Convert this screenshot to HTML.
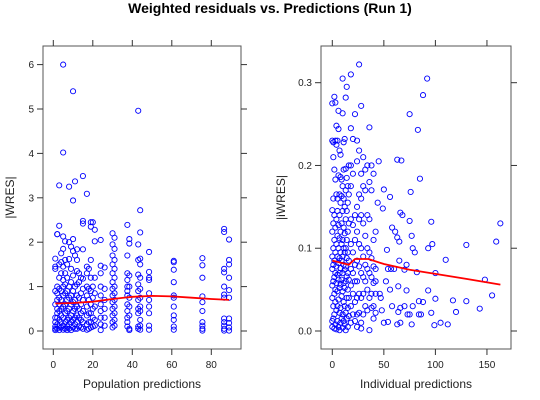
<!DOCTYPE html>
<html><head><meta charset="utf-8">
<style>
html,body{margin:0;padding:0;background:#fff;}
svg{display:block;font-family:"Liberation Sans",Arial,sans-serif;}
</style></head>
<body>
<svg id="chart" width="540" height="400" viewBox="0 0 540 400">
<text x="270" y="13" text-anchor="middle" font-size="14" font-weight="bold">Weighted residuals vs. Predictions (Run 1)</text>
<g id="left"></g>
<g id="right"></g>
</svg>
<script>
// ---- Left panel data (Population predictions vs |WRES|) ----
const leftColX = [1,2,3,4,5,6,7,8,9,10,11,12,13,14,15,17,18,19,20,21,24,26,30,31,37.5,38.5,43,44,48.5,61,75.5,86.5,89];
const leftColY = [
[1.63,1.45,1.4,0.9,0.6,0.2,0.1,0.05,0.02,0.3],
[2.18,1.0,0.85,0.5,0.3,0.15,0.05,0.7,0.4,2.18],
[2.37,3.28,1.5,1.2,0.95,0.75,0.45,0.25,0.1,0.02,0.6],
[1.75,1.55,0.9,0.7,0.5,0.35,0.2,0.08,1.3],
[6.0,4.02,2.13,1.85,1.45,1.15,0.8,0.55,0.3,0.12,0.03,1.0],
[2.02,1.6,1.3,1.05,0.6,0.4,0.2,0.05,0.85],
[1.5,1.2,0.9,0.7,0.45,0.25,0.1,0.02],
[3.25,2.0,1.62,1.0,0.75,0.5,0.3,0.15,0.05],
[1.9,1.4,1.1,0.8,0.6,0.35,0.2,0.02],
[5.4,2.94,2.07,1.8,1.25,0.9,0.65,0.45,0.25,0.08],
[3.37,1.7,1.0,0.7,0.5,0.3,0.15,0.05],
[1.84,1.6,1.35,1.05,0.8,0.55,0.35,0.2,0.05],
[1.3,1.1,0.75,0.5,0.3,0.1],
[1.2,0.85,0.6,0.4,0.25,0.08],
[3.49,2.48,2.42,1.84,1.18,0.95,0.7,0.45,0.2,0.05],
[3.09,1.45,1.3,1.0,0.8,0.55,0.35,0.15,0.03],
[1.4,0.95,0.7,0.4,0.2,0.05],
[2.45,2.35,1.6,1.2,0.9,0.6,0.4,0.2,0.08],
[2.45,1.0,0.75,0.5,0.3,0.1],
[2.28,2.02,1.2,0.85,0.55,0.25,0.12],
[2.05,1.47,1.3,1.0,0.8,0.6,0.45,0.3,0.15,0.02],
[1.43,0.95,0.7,0.5,0.3,0.12],
[2.2,1.95,1.7,1.5,1.3,1.1,0.95,0.8,0.65,0.5,0.35,0.2,0.08],
[2.1,1.85,1.6,1.4,1.2,1.0,0.85,0.7,0.55,0.4,0.25,0.12],
[2.39,1.7,1.3,1.15,1.0,0.9,0.8,0.6,0.45,0.3,0.2,0.1],
[2.07,1.97,1.25,1.0,0.75,0.55,0.35,0.05,0.02],
[4.96,1.95,1.6,1.27,1.05,0.9,0.7,0.5,0.4,0.1,0.05],
[2.72,2.22,1.63,1.5,1.2,0.95,0.75,0.55,0.45,0.25,0.12,0.03],
[1.78,1.33,1.2,1.15,0.85,0.7,0.55,0.4,0.12,0.03],
[1.58,1.55,1.38,1.1,0.8,0.75,0.55,0.35,0.25,0.1,0.03],
[1.64,1.48,1.2,0.78,0.65,0.45,0.2,0.12,0.05,0.01],
[2.3,2.23,1.4,1.32,1.0,0.82,0.75,0.28,0.2,0.12,0.05,0.01],
[2.06,1.6,1.5,1.2,0.92,0.75,0.28,0.18,0.08,0.01]
];
const leftSmoothX = [1,10,20,30,40,50,60,70,80,89];
const leftSmoothY = [0.62,0.63,0.66,0.72,0.77,0.79,0.78,0.75,0.72,0.70];
const leftXTicks = [0,20,40,60,80];
const leftYTicks = [0,1,2,3,4,5,6];

// ---- Right panel data (Individual predictions vs |iWRES|) ----
const rightColX = [0,1,2,3,4,5,6,7,8,9,10,11,12,13,14,15,16,18,20,22,24,26,28,30,32,34,36,38,40,42];
const rightColY = [
[0.275,0.23,0.146,0.12,0.09,0.075,0.055,0.04,0.012,0.005],
[0.228,0.21,0.16,0.13,0.1,0.08,0.06,0.03,0.015],
[0.283,0.195,0.14,0.11,0.085,0.065,0.045,0.02,0.003],
[0.276,0.23,0.183,0.125,0.095,0.07,0.05,0.035,0.008],
[0.248,0.225,0.165,0.135,0.105,0.078,0.058,0.025,0.002],
[0.23,0.16,0.145,0.115,0.09,0.068,0.048,0.03,0.012],
[0.266,0.244,0.188,0.128,0.1,0.082,0.062,0.038,0.005],
[0.218,0.165,0.14,0.112,0.088,0.07,0.052,0.022,0.001],
[0.213,0.186,0.155,0.12,0.095,0.076,0.056,0.028,0.01],
[0.183,0.163,0.13,0.105,0.085,0.062,0.042,0.015],
[0.263,0.305,0.175,0.145,0.11,0.09,0.07,0.048,0.02,0.004],
[0.228,0.195,0.16,0.125,0.1,0.08,0.058,0.035,0.012],
[0.232,0.15,0.118,0.095,0.074,0.052,0.03,0.008],
[0.282,0.196,0.17,0.135,0.1,0.078,0.06,0.022,0.001],
[0.295,0.185,0.145,0.11,0.088,0.066,0.04,0.015],
[0.175,0.155,0.12,0.095,0.07,0.05,0.028,0.005],
[0.2,0.165,0.13,0.085,0.062,0.04,0.018],
[0.31,0.245,0.2,0.175,0.135,0.105,0.075,0.055,0.03,0.01],
[0.232,0.19,0.128,0.095,0.07,0.045,0.02],
[0.262,0.14,0.11,0.08,0.06,0.035,0.012],
[0.23,0.205,0.15,0.12,0.085,0.06,0.04,0.02,0.005],
[0.322,0.218,0.165,0.135,0.105,0.078,0.045,0.022],
[0.272,0.19,0.16,0.14,0.1,0.07,0.04,0.01,0.003],
[0.21,0.175,0.13,0.09,0.065,0.045,0.02],
[0.195,0.17,0.115,0.08,0.06,0.03],
[0.2,0.14,0.1,0.075,0.05,0.025],
[0.246,0.18,0.135,0.095,0.07,0.04,0.001],
[0.2,0.17,0.088,0.065,0.045,0.028],
[0.19,0.11,0.078,0.058,0.03,0.015],
[0.12,0.075,0.06,0.045,0.022]
];
const rightExtraX = [92,88,75,83,63,67,45,85,76,50,56,66,75,96,163,44,58,63,77,65,97,130,159,78,93,80,110,65,100,82,148,54,60,72,70,64,72,93,155,100,117,130,84,88,143,120,96,78,70,66,84,86,73,75,64,77,63,66,99,105,112,50,54,48,58,56,52,47,53,46,61,68,57,49];
const rightExtraY = [0.305,0.285,0.262,0.243,0.207,0.206,0.205,0.184,0.168,0.171,0.162,0.143,0.133,0.132,0.13,0.155,0.125,0.113,0.115,0.108,0.105,0.104,0.108,0.1,0.1,0.095,0.086,0.085,0.07,0.071,0.062,0.075,0.075,0.08,0.074,0.054,0.049,0.049,0.043,0.039,0.037,0.036,0.036,0.035,0.027,0.023,0.022,0.03,0.03,0.028,0.02,0.02,0.02,0.02,0.023,0.008,0.008,0.01,0.007,0.01,0.008,0.01,0.011,0.025,0.03,0.05,0.06,0.04,0.098,0.045,0.12,0.14,0.075,0.148];
const rightSmoothX = [0,10,16,22,35,50,75,100,130,163];
const rightSmoothY = [0.085,0.082,0.080,0.087,0.087,0.081,0.074,0.069,0.063,0.056];
const rightXTicks = [0,50,100,150];
const rightYTicks = [0,0.1,0.2,0.3];
const rightYLabels = ["0.0","0.1","0.2","0.3"];

const NS = "http://www.w3.org/2000/svg";
function mk(tag, attrs, parent){const e=document.createElementNS(NS,tag);for(const k in attrs)e.setAttribute(k,attrs[k]);parent.appendChild(e);return e;}

function panel(g, box, sx, sy, xTicks, yTicks, yLabels, xTitle, yTitle, ptsX, ptsY, smX, smY, ytx){
  const frame = mk('rect',{x:box.l,y:box.t,width:box.r-box.l,height:box.b-box.t,fill:'none',stroke:'#555','stroke-width':1},g);
  
  
  xTicks.forEach(v=>{
    const x=sx(v);
    const t1=mk('line',{x1:x,x2:x,y1:box.b,y2:box.b+6,stroke:'#333'},g);
    
    
    const t2=mk('line',{x1:x,x2:x,y1:box.t,y2:box.t-6,stroke:'#333'},g);
    
    
    const lb=mk('text',{x:x,y:box.b+19,'text-anchor':'middle','font-size':10,fill:'#222'},g);
    lb.textContent=v;
    
    
  });
  yTicks.forEach((v,i)=>{
    const y=sy(v);
    const t1=mk('line',{x1:box.l-6,x2:box.l,y1:y,y2:y,stroke:'#333'},g);
    
    
    const t2=mk('line',{x1:box.r,x2:box.r+6,y1:y,y2:y,stroke:'#333'},g);
    
    
    const lb=mk('text',{x:box.l-9,y:y+3.5,'text-anchor':'end','font-size':10,fill:'#222'},g);
    lb.textContent=yLabels?yLabels[i]:v;
    
    
  });
  const xt=mk('text',{x:(box.l+box.r)/2,y:388,'text-anchor':'middle','font-size':12,fill:'#222'},g);
  xt.textContent=xTitle;
  
  
  const yx=ytx, yy=(box.t+box.b)/2;
  const yt=mk('text',{x:yx,y:yy,'text-anchor':'middle','font-size':12,fill:'#222',transform:`rotate(-90 ${yx} ${yy})`},g);
  yt.textContent=yTitle;
  
  
  for(let i=0;i<ptsX.length;i++){
    const c=mk('circle',{cx:sx(ptsX[i]),cy:sy(ptsY[i]),r:2.6,fill:'none',stroke:'#0000ff','stroke-width':0.9},g);
    
    
  }
  const d=smX.map((v,i)=>(i?'L':'M')+sx(v).toFixed(1)+','+sy(smY[i]).toFixed(1)).join(' ');
  const p=mk('path',{d:d,fill:'none',stroke:'#ff0000','stroke-width':1.8},g);
  
  
}

const lx=[],ly=[];
leftColX.forEach((x,i)=>leftColY[i].forEach(y=>{lx.push(x);ly.push(y);}));
const rx=[],ry=[];
rightColX.forEach((x,i)=>rightColY[i].forEach(y=>{rx.push(x);ry.push(y);}));
rightExtraX.forEach((x,i)=>{rx.push(x);ry.push(rightExtraY[i]);});

const lbox={l:43,r:241,t:46,b:349};
const lsx=v=>53.3+v*1.975, lsy=v=>331-v*44.4;
panel(document.getElementById('left'),lbox,lsx,lsy,leftXTicks,leftYTicks,null,'Population predictions','|WRES|',lx,ly,leftSmoothX,leftSmoothY,14);

const rbox={l:321,r:511,t:46,b:349};
const rsx=v=>332.3+v*1.031, rsy=v=>331-v*827.7;
panel(document.getElementById('right'),rbox,rsx,rsy,rightXTicks,rightYTicks,rightYLabels,'Individual predictions','|iWRES|',rx,ry,rightSmoothX,rightSmoothY,285);
</script>
</body></html>
